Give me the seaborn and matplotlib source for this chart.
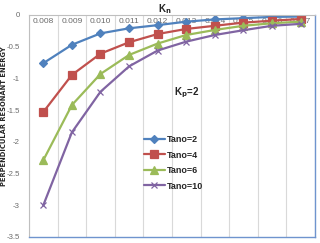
import numpy as np
import pandas as pd
import seaborn as sns
import matplotlib.pyplot as plt

# datos
kn = ["0.008", "0.009", "0.010", "0.011", "0.012", "0.013", "0.014", "0.015", "0.016", "0.017"]
tano2 = [-0.76, -0.47, -0.29, -0.21, -0.16, -0.105, -0.07, -0.05, -0.03, -0.025]
tano4 = [-1.53, -0.945, -0.61, -0.43, -0.30, -0.22, -0.17, -0.12, -0.09, -0.063]
tano6 = [-2.29, -1.42, -0.93, -0.63, -0.45, -0.315, -0.236, -0.17, -0.13, -0.105]
tano10 = [-3.0, -1.85, -1.21, -0.81, -0.56, -0.42, -0.315, -0.24, -0.17, -0.14]
series = ["Tano=2", "Tano=4", "Tano=6", "Tano=10"]

sns.set_style("white")
plt.rcParams["font.family"] = ["Liberation Sans", "DejaVu Sans"]

fig = plt.figure(figsize=(3.2, 2.43), dpi=100)
ax = fig.add_axes([0.0906, 0.0247, 0.8934, 0.9136])

colores = ["#4F81BD", "#C0504D", "#9BBB59", "#8064A2"]
marcadores = ["D", "s", "^", "x"]
tamanos = [4.5, 5.5, 5.5, 5]
for nombre, vals, c, m, ms in zip(series, [tano2, tano4, tano6, tano10], colores, marcadores, tamanos):
    df = pd.DataFrame({"Kn": kn, "E": vals})
    sns.lineplot(
        data=df, x="Kn", y="E", color=c, marker=m, markersize=ms,
        markeredgecolor=c, markeredgewidth=0.9, linewidth=1.6,
        label=nombre, ax=ax,
    )

ax.set_xlim(-0.5, 9.5)
ax.set_ylim(-3.5, 0)
ax.set_yticks(np.arange(-3.5, 0.01, 0.5))
ax.set_yticklabels(["-3.5", "-3", "-2.5", "-2", "-1.5", "-1", "-0.5", "0"])
ax.set_xticks(range(10))
ax.set_xticklabels(kn)
ax.set_xticks(np.arange(-0.5, 10, 1), minor=True)
ax.grid(True, which="minor", axis="x", color="#D9D9D9", linewidth=0.8)
ax.grid(False, which="major")
ax.tick_params(axis="x", which="both", top=False, bottom=False,
               labeltop=True, labelbottom=False, pad=-11,
               labelsize=6, labelcolor="#6A6A6A")
ax.tick_params(axis="y", left=False, labelsize=5.6, labelcolor="#6A6A6A", pad=3)

for s in ["top", "left"]:
    ax.spines[s].set_color("#BFBFBF")
    ax.spines[s].set_linewidth(0.8)
for s in ["bottom", "right"]:
    ax.spines[s].set_color("#6F94CE")
    ax.spines[s].set_linewidth(1.0)

ax.set_xlabel("")
ax.set_ylabel("")
fig.text(4.5 / 320, 0.523, "PERPENDICULAR RESONANT ENERGY", rotation=90,
         fontsize=4.9, fontweight="bold", family="DejaVu Sans",
         ha="center", va="center")
fig.text(165 / 320, 1 - 9 / 243, "K$_\\mathbf{n}$", fontsize=7, fontweight="bold",
         ha="center", va="center")
ax.text(0.55, 0.65, "K$_\\mathbf{p}$=2", transform=ax.transAxes, fontsize=7,
        fontweight="bold", ha="center", va="center")

leg = ax.legend(loc="upper left", bbox_to_anchor=(0.39, 0.475), frameon=False,
                handlelength=2.3, labelspacing=0.72, handletextpad=0.2,
                borderaxespad=0, prop={"size": 6.5, "weight": "bold"})

fig.savefig("out.png", dpi=100)
